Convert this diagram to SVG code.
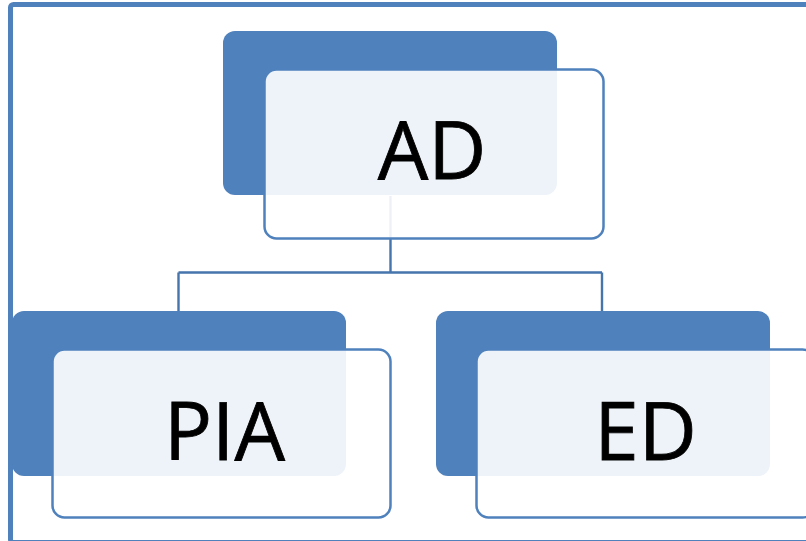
<svg xmlns="http://www.w3.org/2000/svg" width="806" height="541" viewBox="0 0 806 541">
<style>
.frame{fill:#fff;stroke:#4F81BD;stroke-width:5}
.back{fill:#4F81BD}
.front{fill:#fff;fill-opacity:0.9;stroke:#4F81BD;stroke-width:2.5}
.lbl{font-family:"Open Sans","Noto Sans",sans-serif;font-size:80px;fill:#000;stroke:#000;stroke-width:0.8;text-anchor:middle}
.conn{fill:none;stroke:#4674AD;stroke-width:2.4}
</style>
<rect x="0" y="0" width="806" height="541" fill="#fff"/>
<rect class="frame" x="10.5" y="4.5" width="830" height="538" rx="3"/>
<g id="connectors">
<path class="conn" d="M390.5,196 V272.5 M178.5,272.5 H602 M178.5,272.5 V311 M602,272.5 V311"/>
</g>
<g id="node-AD">
<rect class="back" x="223" y="31" width="334" height="164" rx="12"/>
<rect class="front" x="264.5" y="69.5" width="339" height="169" rx="12"/>
<text class="lbl" x="432" y="179">AD</text>
</g>
<g id="node-PIA">
<rect class="back" x="12" y="311" width="334" height="165" rx="12"/>
<rect class="front" x="52.5" y="349.5" width="338" height="168" rx="12"/>
<text class="lbl" x="224.5" y="460">PIA</text>
</g>
<g id="node-ED">
<rect class="back" x="436" y="311" width="334" height="165" rx="12"/>
<rect class="front" x="476.5" y="349.5" width="338" height="168" rx="12"/>
<text class="lbl" x="645.5" y="460">ED</text>
</g>
</svg>
